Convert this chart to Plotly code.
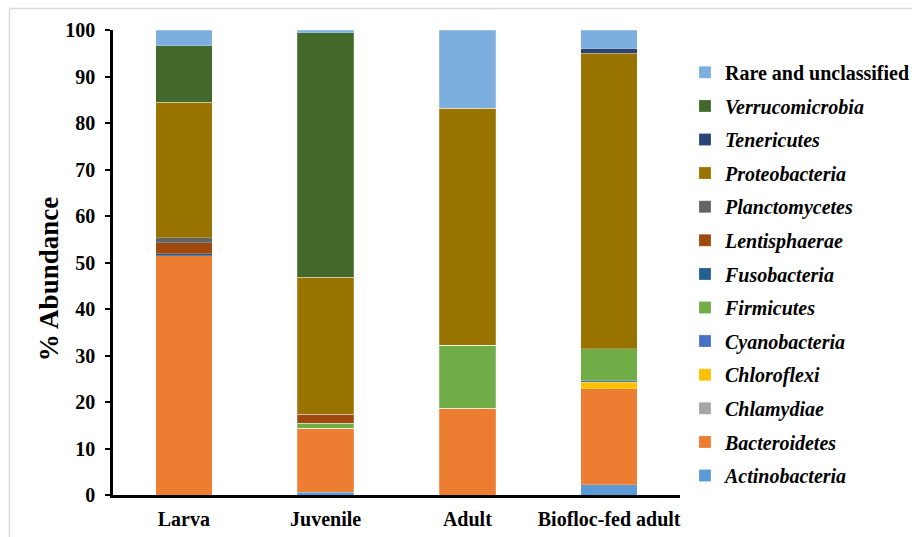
import plotly.graph_objects as go

# Relative abundance (%) of bacterial phyla by life stage
stages = ["Larva", "Juvenile", "Adult", "Biofloc-fed adult"]

actinobacteria = [0.0, 0.6, 0.0, 2.2]
bacteroidetes = [51.5, 13.8, 18.7, 20.7]
chlamydiae = [0.0, 0.0, 0.0, 0.0]
chloroflexi = [0.0, 0.0, 0.0, 1.4]
cyanobacteria = [0.0, 0.0, 0.0, 0.3]
firmicutes = [0.0, 1.0, 13.5, 6.8]
fusobacteria = [0.4, 0.0, 0.0, 0.0]
lentisphaerae = [2.3, 2.0, 0.0, 0.0]
planctomycetes = [1.1, 0.0, 0.0, 0.0]
proteobacteria = [29.2, 29.4, 51.0, 63.6]
tenericutes = [0.0, 0.0, 0.0, 1.1]
verrucomicrobia = [12.1, 52.6, 0.0, 0.0]
rare_unclassified = [3.4, 0.6, 16.8, 3.9]

series = [
    ("<i>Actinobacteria</i>", actinobacteria, "#5B9BD5"),
    ("<i>Bacteroidetes</i>", bacteroidetes, "#ED7D31"),
    ("<i>Chlamydiae</i>", chlamydiae, "#A5A5A5"),
    ("<i>Chloroflexi</i>", chloroflexi, "#FFC000"),
    ("<i>Cyanobacteria</i>", cyanobacteria, "#4472C4"),
    ("<i>Firmicutes</i>", firmicutes, "#70AD47"),
    ("<i>Fusobacteria</i>", fusobacteria, "#255E91"),
    ("<i>Lentisphaerae</i>", lentisphaerae, "#9E480E"),
    ("<i>Planctomycetes</i>", planctomycetes, "#636363"),
    ("<i>Proteobacteria</i>", proteobacteria, "#997300"),
    ("<i>Tenericutes</i>", tenericutes, "#264478"),
    ("<i>Verrucomicrobia</i>", verrucomicrobia, "#43682B"),
    ("Rare and unclassified", rare_unclassified, "#7CAFDD"),
]

FONT = "Liberation Serif, Times New Roman, serif"

fig = go.Figure()
n = len(series)
for i, (name, vals, color) in enumerate(series):
    fig.add_trace(go.Bar(
        x=stages, y=vals, name=name,
        legendgroup=f"g{i}",
        legendrank=(n - i) * 10,  # last stacked series listed first
        marker=dict(color=color, line=dict(color="rgba(255,255,255,0.35)", width=0.6)),
        width=0.4,
    ))

fig.update_layout(
    width=912, height=537,
    barmode="stack",
    plot_bgcolor="white", paper_bgcolor="white",
    margin=dict(l=113, r=232, t=30, b=42, autoexpand=False),
    font=dict(family=FONT, size=20, color="black", weight="bold"),
    showlegend=True,
    legend=dict(
        traceorder="grouped",
        x=1.0088, xanchor="left", xref="paper",
        y=0.951, yanchor="top",
        font=dict(family=FONT, size=20, color="black", weight="bold"),
        tracegroupgap=4.6,
        itemwidth=30,
        bgcolor="rgba(0,0,0,0)",
    ),
    xaxis=dict(
        showline=True, linecolor="black", linewidth=2.5,
        ticks="", tickfont=dict(family=FONT, size=20, weight="bold"),
        ticklabelstandoff=4,
        range=[-0.5, 3.5],
    ),
    yaxis=dict(
        range=[0, 100], dtick=10,
        showline=True, linecolor="black", linewidth=2.5,
        ticks="outside", ticklen=5, tickwidth=1.5, tickcolor="black",
        showgrid=False, zeroline=False,
        tickfont=dict(family=FONT, size=20, weight="bold"),
        ticklabelstandoff=6,
    ),
    annotations=[dict(
        text="% Abundance", textangle=-90,
        xref="paper", yref="paper", x=-0.114, y=0.465,
        xanchor="center", yanchor="middle", showarrow=False,
        font=dict(family=FONT, size=27, weight="bold"),
    )],
    shapes=[
        dict(type="line", xref="paper", yref="paper",
             x0=-0.1825, x1=-0.1825, y0=-0.1, y1=1.046,
             line=dict(color="#D9D9D9", width=1.5)),
        dict(type="line", xref="paper", yref="paper",
             x0=-0.1825, x1=1.42, y0=1.046, y1=1.046,
             line=dict(color="#D9D9D9", width=1.5)),
    ],
)

fig.write_html("out.html")
